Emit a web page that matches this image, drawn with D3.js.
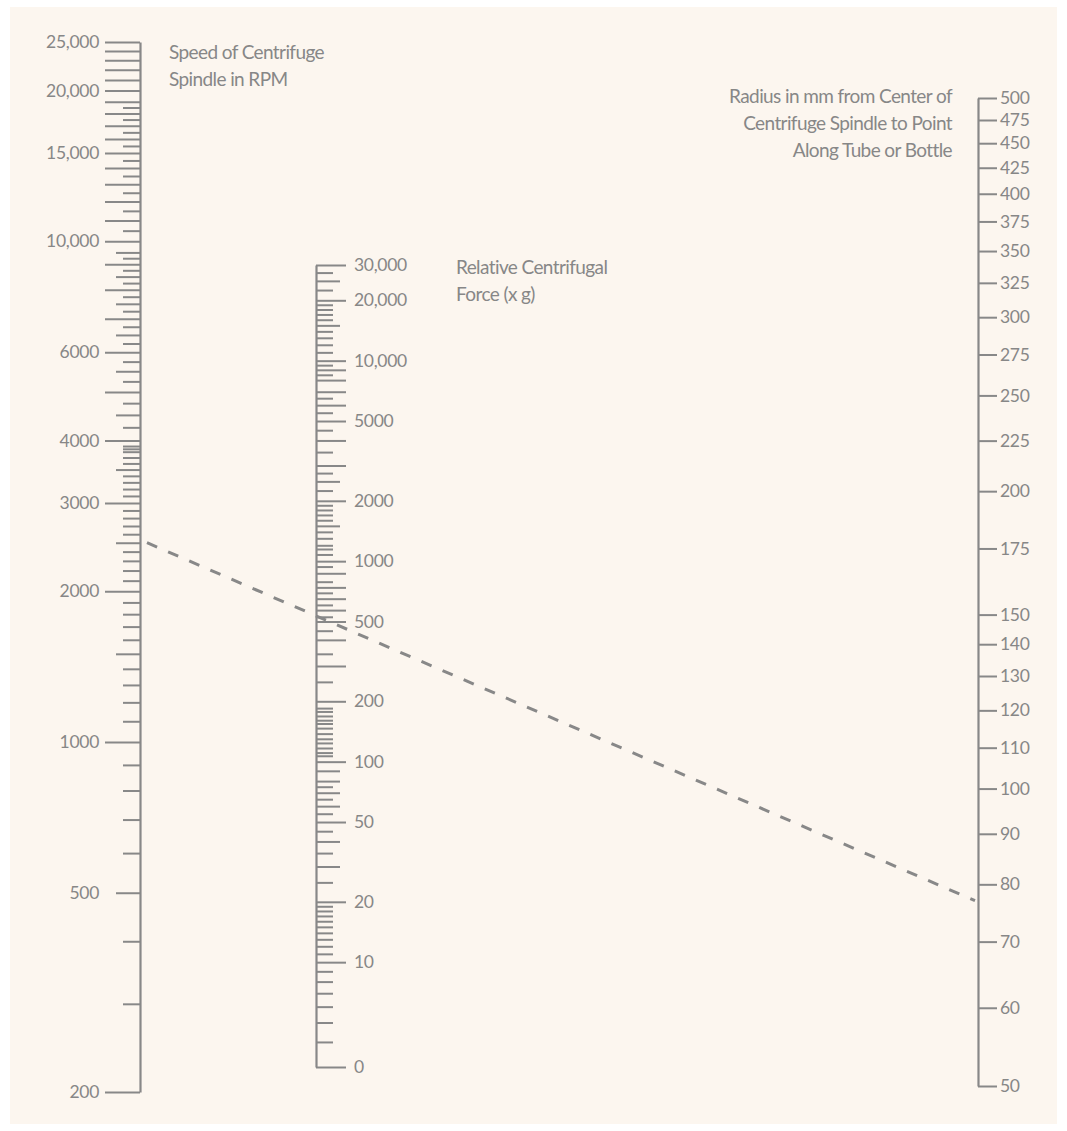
<!DOCTYPE html>
<html><head><meta charset="utf-8">
<script src="https://cdn.jsdelivr.net/npm/d3@7"></script>
<style>
html,body{margin:0;padding:0;background:#ffffff;}
svg text{font-family:Lato,"Open Sans",sans-serif;fill:#878787;}
</style>
</head><body>
<svg id="chart" width="1067" height="1131"></svg>
<script>
// ---------- DATA ----------
// RPM scale (left)
const rpmDomain = [200, 25000];
const rpmLabelValues = [25000, 20000, 15000, 10000, 6000, 4000, 3000, 2000, 1000, 500, 200];
const rpmLabelTexts  = ["25,000","20,000","15,000","10,000","6000","4000","3000","2000","1000","500","200"];
const rpmLongTicks = [25000,24000,23000,22000,21000,20000,19000,18000,17000,16000,15000,14000,13000,12000,11000,10000,9000,8000,7000,6000,5000,4000,3000,2000,1000,200];
const rpmMediumTicks = [9500,8500,7500,6500,5500,4500,3500,2500,1500,500];
const rpmShortTicks = [18500,17500,16500,15500,14500,13500,12500,11500,10500,9250,8750,8250,7750,7250,6750,6250,5750,5250,4750,4250,
  3900,3850,3800,3700,3600,3400,3300,3200,3100,2900,2800,2700,2600,2400,2300,2200,2100,1900,1800,1700,1600,1400,1300,1200,1100,900,800,700,600,400,300];

// RCF scale (middle)
const rcfDomain = [3, 30000];
const rcfLabelValues = [30000, 20000, 10000, 5000, 2000, 1000, 500, 200, 100, 50, 20, 10, 3];
const rcfLabelTexts  = ["30,000","20,000","10,000","5000","2000","1000","500","200","100","50","20","10","0"];
const rcfLongTicks = [30000,20000,10000,9000,8000,7000,6000,5000,4000,3000,2000,1000,870,740,650,570,500,405,300,200,100,50,20,10,3];
const rcfMediumTicks = [25000,15000,2500,1500,90,80,70,60,40,30];
const rcfShortTicks = [27500,22500,19000,18000,17000,16000,14000,13000,12000,11000,9500,8500,6500,5500,4500,3500,2750,2250,
  1900,1800,1700,1600,1400,1300,1200,1150,1080,940,790,695,605,528,450,345,250,
  185,178,169,161,155,147,138,130,124,117,111,107,75,65,55,45,35,25,19,18,17,16,15,14,13,12,11,9,8,7,6,5,4];

// Radius scale (right)
const radDomain = [50, 500];
const radTicks = [500,475,450,425,400,375,350,325,300,275,250,225,200,175,150,140,130,120,110,100,90,80,70,60,50];

// Example reading (dashed line)
const exampleRPM = 2500;
const exampleRadius = 77;

// Titles
const rpmTitle = ["Speed of Centrifuge", "Spindle in RPM"];
const rcfTitle = ["Relative Centrifugal", "Force (x g)"];
const radTitle = ["Radius in mm from Center of", "Centrifuge Spindle to Point", "Along Tube or Bottle"];

// ---------- DRAW ----------
const svg = d3.select("#chart");
const ink = "#888888";

svg.append("rect").attr("x", 10).attr("y", 7).attr("width", 1047).attr("height", 1117).attr("fill", "#fcf6ef");

const xRPM = 140, xRCF = 316, xRad = 978;
const yRPM = d3.scaleLog().domain(rpmDomain).range([1092, 42]);
const yRCF = d3.scaleLog().domain(rcfDomain).range([1067, 265]);
const yRad = d3.scaleLog().domain(radDomain).range([1086, 98]);

function styleAxis(g){
  g.selectAll("line").attr("stroke", ink).attr("stroke-width", 2);
  g.selectAll("path.domain").attr("stroke", ink).attr("stroke-width", 2.2);
  g.selectAll("text").attr("fill", "#878787").style("font-size", "17.5px").style("letter-spacing", "-0.3px");
}

function tickLayer(axisFn, scale, x, values, size){
  const g = svg.append("g").attr("transform", `translate(${x},0)`)
    .call(axisFn(scale).tickValues(values).tickSize(size).tickSizeOuter(0).tickFormat(""));
  g.select("path.domain").remove();
  styleAxis(g);
}
function labelLayer(axisFn, scale, x, values, texts, pad){
  const g = svg.append("g").attr("transform", `translate(${x},0)`)
    .call(axisFn(scale).tickValues(values).tickSize(0).tickPadding(pad).tickSizeOuter(0)
      .tickFormat((d,i) => texts[i]));
  g.select("path.domain").remove();
  styleAxis(g);
  return g;
}
function domainLine(axisFn, scale, x){
  const g = svg.append("g").attr("transform", `translate(${x},0)`)
    .call(axisFn(scale).tickValues([]).tickSizeOuter(0));
  styleAxis(g);
}

// RPM axis
domainLine(d3.axisLeft, yRPM, xRPM);
tickLayer(d3.axisLeft, yRPM, xRPM, rpmLongTicks, 35);
tickLayer(d3.axisLeft, yRPM, xRPM, rpmMediumTicks, 24);
tickLayer(d3.axisLeft, yRPM, xRPM, rpmShortTicks, 17);
labelLayer(d3.axisLeft, yRPM, xRPM, rpmLabelValues, rpmLabelTexts, 41);

// RCF axis
domainLine(d3.axisRight, yRCF, xRCF);
tickLayer(d3.axisRight, yRCF, xRCF, rcfLongTicks, 30);
tickLayer(d3.axisRight, yRCF, xRCF, rcfMediumTicks, 24);
tickLayer(d3.axisRight, yRCF, xRCF, rcfShortTicks, 17);
labelLayer(d3.axisRight, yRCF, xRCF, rcfLabelValues, rcfLabelTexts, 38);

// Radius axis
domainLine(d3.axisRight, yRad, xRad);
tickLayer(d3.axisRight, yRad, xRad, radTicks, 19);
labelLayer(d3.axisRight, yRad, xRad, radTicks, radTicks.map(String), 22);

// Dashed example line
svg.append("line")
  .attr("x1", xRPM + 7).attr("y1", yRPM(exampleRPM))
  .attr("x2", xRad - 3).attr("y2", yRad(exampleRadius))
  .attr("stroke", ink).attr("stroke-width", 3)
  .attr("stroke-dasharray", "11,12");

// Titles
function title(lines, x, y0, anchor){
  const t = svg.append("text").attr("x", x).attr("y", y0).attr("text-anchor", anchor)
    .style("font-size", "19px").style("letter-spacing", "-0.6px");
  lines.forEach((s, i) => t.append("tspan").attr("x", x).attr("dy", i === 0 ? 0 : 27).text(s));
}
title(rpmTitle, 169, 59, "start");
title(rcfTitle, 456, 274, "start");
title(radTitle, 952, 103, "end");
</script>
</body></html>
